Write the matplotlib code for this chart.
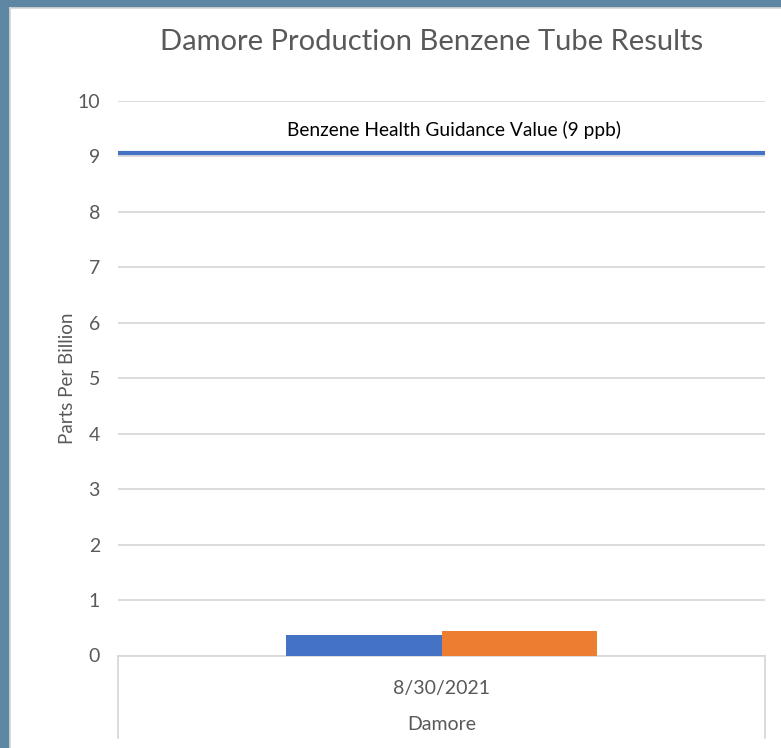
import matplotlib
matplotlib.use('Agg')
import matplotlib.pyplot as plt
from matplotlib.patches import Rectangle
from matplotlib.lines import Line2D
import numpy as np

plt.rcParams['font.family'] = ['Lato', 'DejaVu Sans']

# data
category = '8/30/2021'
group = 'Damore'
series_vals = [0.37, 0.44]          # two tube samples, ppb
series_colors = ['#4472C4', '#ED7D31']
guidance_value = 9.06
guidance_label = 'Benzene Health Guidance Value (9 ppb)'
yticks = list(range(0, 11))

W, H = 781, 748
fig = plt.figure(figsize=(W / 100, H / 100), dpi=100)
fig.patch.set_facecolor('white')

# outer frame (blue-grey band on left and top)
frame_col = '#5E87A3'
fig.add_artist(Rectangle((0, 0), 9 / W, 1, transform=fig.transFigure, color=frame_col, zorder=0))
fig.add_artist(Rectangle((0, 1 - 7 / H), 1, 7 / H, transform=fig.transFigure, color=frame_col, zorder=0))
fig.add_artist(Line2D([9.5 / W, 9.5 / W], [0, 1 - 7.5 / H], transform=fig.transFigure, color='#d9d9d9', lw=1.2))
fig.add_artist(Line2D([9.5 / W, 1], [1 - 7.5 / H, 1 - 7.5 / H], transform=fig.transFigure, color='#d9d9d9', lw=1.2))

x0, x1 = 118, 765
y0, y1 = 655.5, 101
ax = fig.add_axes([x0 / W, 1 - y0 / H, (x1 - x0) / W, (y0 - y1) / H])

width = 0.24
offsets = [-0.12, 0.12]
for v, c, off in zip(series_vals, series_colors, offsets):
    ax.bar(0 + off, v, width=width, color=c, zorder=3)

ax.axhline(guidance_value, color='#4472C4', lw=3, zorder=4)
ax.text(0.02, guidance_value + 0.42, guidance_label, ha='center', va='center',
        fontsize=13.8, color='black', zorder=5)

ax.set_xlim(-0.5, 0.5)
ax.set_ylim(0, 10)
ax.set_yticks(yticks)
ax.set_xticks([])
ax.grid(axis='y', color='#d9d9d9', lw=1.3, zorder=0)
ax.tick_params(axis='y', length=0, pad=13, labelsize=14, labelcolor='#595959')
for s in ['top', 'right', 'left']:
    ax.spines[s].set_visible(False)
ax.spines['bottom'].set_color('#d9d9d9')
ax.spines['bottom'].set_linewidth(1.3)
ax.set_ylabel('Parts Per Billion', fontsize=13.5, color='#595959', labelpad=1)

# two-level category axis
for xp in (x0, x1):
    fig.add_artist(Line2D([xp / W, xp / W], [1 - y0 / H, 1 - 738 / H], transform=fig.transFigure,
                          color='#d9d9d9', lw=1.3))
ax.text(0, -0.059, category, transform=ax.get_xaxis_transform(), ha='center', va='center',
        fontsize=14, color='#595959')
ax.text(0, -0.124, group, transform=ax.get_xaxis_transform(), ha='center', va='center',
        fontsize=14, color='#595959')

fig.text(432 / W, 1 - 42 / H, 'Damore Production Benzene Tube Results', ha='center', va='center',
         fontsize=21, color='#595959')

fig.savefig('out.png', dpi=100, facecolor='white')
